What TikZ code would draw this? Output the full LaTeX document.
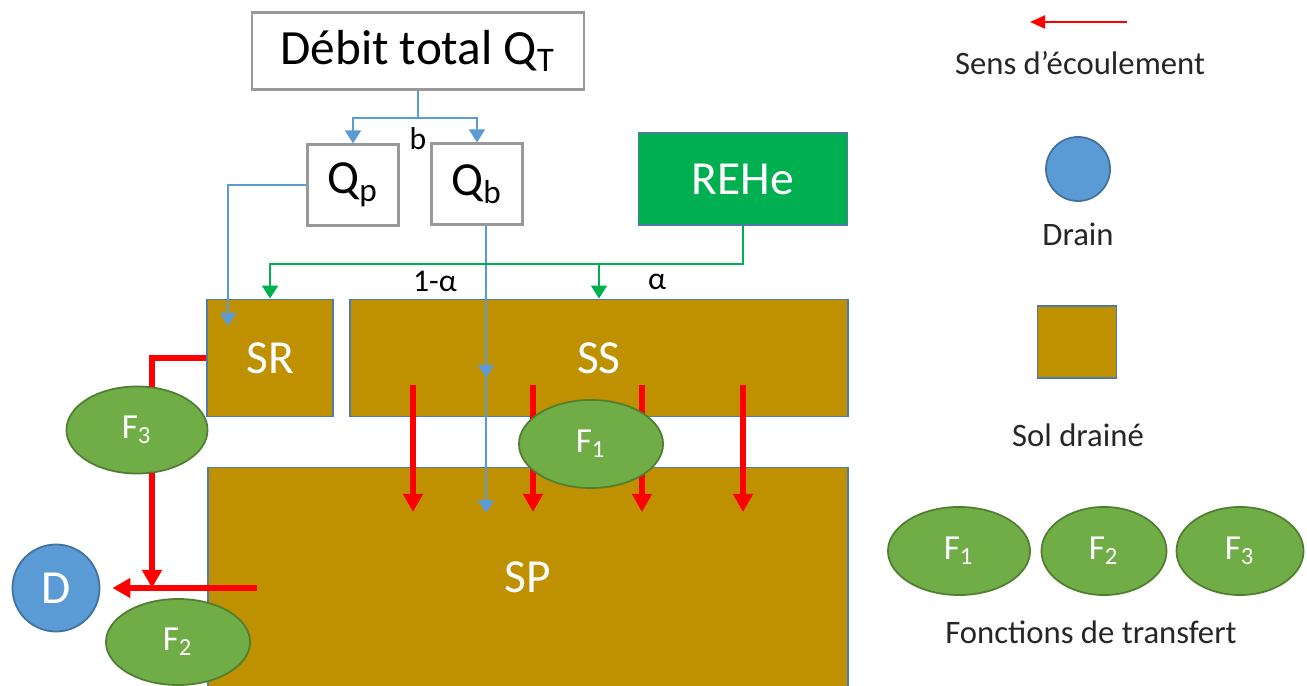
\documentclass[tikz,border=0pt]{standalone}
\usepackage{fontspec}
\setmainfont{Carlito}
\usetikzlibrary{positioning, arrows.meta, shapes.geometric, calc, decorations.markings}

\definecolor{soil}{HTML}{BF9000}
\definecolor{soiledge}{HTML}{4F7BAA}
\definecolor{rehegreen}{HTML}{00B050}
\definecolor{func}{HTML}{70AD47}
\definecolor{funcedge}{HTML}{507E32}
\definecolor{drainblue}{HTML}{5B9BD5}
\definecolor{drainedge}{HTML}{41719C}
\definecolor{waterblue}{HTML}{5B9BD5}

\begin{document}
\begin{tikzpicture}[x=0.01cm, y=-0.01cm,
    box/.style={draw=black!40, line width=0.6pt, fill=white, inner sep=0pt},
    soilbox/.style={draw=soiledge, line width=0.5pt, fill=soil, text=white, inner sep=0pt,
                    font=\fontsize{13.5}{16}\selectfont},
    func/.style={ellipse, draw=funcedge, line width=0.5pt, fill=func, text=white, inner sep=0pt,
                 font=\fontsize{10}{12}\selectfont},
    tag/.style={font=\fontsize{9}{11}\selectfont},
    legend/.style={font=\fontsize{9.3}{11}\selectfont, text=black!85},
    water/.style={draw=waterblue, line width=0.55pt, -{Triangle[length=1.3mm, width=1.6mm]}},
    heat/.style={draw=rehegreen, line width=0.55pt, -{Triangle[length=1.3mm, width=1.6mm]}},
    flow/.style={draw=red, line width=1.6pt, -{Triangle[length=1.8mm, width=1.9mm]}},
    decoration={markings, mark=at position 0.53 with {\arrow{Triangle[length=1.3mm, width=1.6mm]}}}]

    \useasboundingbox (0,0) rectangle (1307,686);

    % Flows entering the system
    \node[box, minimum width=3.32cm, minimum height=0.77cm, font=\fontsize{14}{17}\selectfont]
        (debit) at (418,51) {Débit total Q\textsubscript{T}};
    \node[box, minimum width=0.91cm, minimum height=0.81cm, font=\fontsize{13.5}{16}\selectfont]
        (qp) at (353,185) {Q\textsubscript{p}};
    \node[box, minimum width=0.91cm, minimum height=0.81cm, font=\fontsize{13.5}{16}\selectfont]
        (qb) at (477,184) {Q\textsubscript{b}};
    \node[draw=soiledge, line width=0.5pt, fill=rehegreen, text=white, minimum width=2.09cm,
          minimum height=0.92cm, font=\fontsize{13.5}{16}\selectfont] (rehe) at (743,179) {REHe};

    % Soil compartments
    \node[soilbox, minimum width=1.26cm, minimum height=1.17cm] (sr) at (270,358) {SR};
    \node[soilbox, minimum width=4.98cm, minimum height=1.17cm] (ss) at (599,358) {SS};
    \node[soilbox, minimum width=6.39cm, minimum height=2.19cm] (sp) at (528,577) {SP};

    % Split of the total discharge
    \coordinate (split) at (418,118);
    \draw[waterblue, line width=0.55pt] (debit.south) -- (split);
    \draw[water] (split) -| (qp.north);
    \draw[water] (split) -| (qb.north);
    \node[tag] (blabel) at (418,139) {b};

    \coordinate (srin) at (228,326);
    \draw[water] (qp.west) -| (srin);
    \coordinate (qbend) at (486,513);
    \draw[water, postaction={decorate}] ($(qb.south)+(9,0)$) -- (qbend);

    % REHe shared between SR and SS
    \coordinate (hsplit) at ($(rehe.south)+(0,38)$);
    \draw[heat] (rehe.south) -- (hsplit) -| (sr.north);
    \draw[heat] (ss.north |- hsplit) -- (ss.north);
    \node[tag] (onealpha) at (435,281) {1-α};
    \node[tag] (alpha) at (657,282) {α};

    % Percolation SS -> SP
    \foreach \x in {413,533,642,743}
        \draw[flow] (\x,385) -- (\x,512);

    % Transfer functions and drain
    \node[func, minimum width=1.44cm, minimum height=0.88cm] (fone) at (591,444) {F\textsubscript{1}};
    \node[func, minimum width=1.41cm, minimum height=0.87cm] (fthree) at (137,430) {F\textsubscript{3}};
    \node[circle, draw=drainedge, line width=0.5pt, fill=drainblue, text=white, minimum size=0.87cm,
          font=\fontsize{13.5}{16}\selectfont] (drain) at (56,588) {D};

    \coordinate (join) at (152,588);
    \coordinate (spout) at (257,588);
    \draw[flow, -] (sr.west) -| ($(fthree.north)+(15,1)$);
    \draw[flow] ($(fthree.south)+(15,-1)$) -- (join);
    \draw[flow, shorten >=1.2mm] (spout) -- (drain);

    \node[func, minimum width=1.44cm, minimum height=0.86cm] (ftwo) at (178,642) {F\textsubscript{2}};

    % Legend
    \coordinate (sensA) at (1127,22);
    \coordinate (sensB) at (1030,22);
    \draw[red, line width=0.6pt, -{Triangle[length=1.5mm, width=1.3mm]}] (sensA) -- (sensB);
    \node[legend] (sens) at (1080,63) {Sens d’écoulement};
    \node[circle, draw=drainedge, line width=0.5pt, fill=drainblue, minimum size=0.64cm] (legdrain) at (1078,169) {};
    \node[legend] (drainlbl) at (1078,234) {Drain};
    \node[soilbox, minimum width=0.79cm, minimum height=0.72cm] (legsoil) at (1077,342) {};
    \node[legend] (soillbl) at (1078,435) {Sol drainé};
    \node[func, minimum width=1.42cm, minimum height=0.88cm] (legfone) at (959,551) {F\textsubscript{1}};
    \node[func, minimum width=1.25cm, minimum height=0.88cm] (legftwo) at (1104,551) {F\textsubscript{2}};
    \node[func, minimum width=1.27cm, minimum height=0.88cm] (legfthree) at (1240,551) {F\textsubscript{3}};
    \node[legend] (funclbl) at (1091,632) {Fonctions de transfert};

\end{tikzpicture}
\end{document}
